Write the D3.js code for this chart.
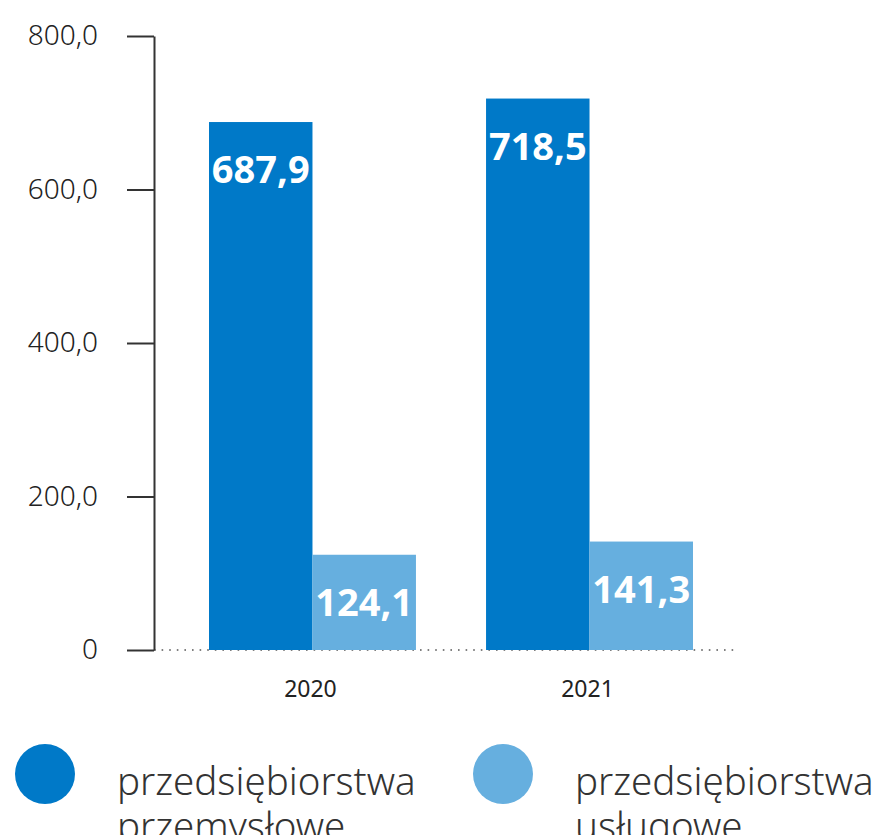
<!DOCTYPE html>
<html>
<head>
<meta charset="utf-8">
<script src="https://cdn.jsdelivr.net/npm/d3@7"></script>
<style>
  body { margin: 0; background: #fff; }
  svg { display: block; font-family: "Noto Sans", sans-serif; }
</style>
</head>
<body>
<svg id="chart" width="876" height="835"></svg>
<script>
// chart data
var years = ["2020", "2021"];
var seriesNames = ["przedsiębiorstwa przemysłowe", "przedsiębiorstwa usługowe"];
var industrial = [687.9, 718.5];
var services = [124.1, 141.3];
var yTicks = [0, 200, 400, 600, 800];

var colors = ["#0079c8", "#66afdf"];
var fmt = function(v) { return v.toFixed(1).replace(".", ","); };

var svg = d3.select("#chart");

// scales
var y = d3.scaleLinear().domain([0, 800]).range([650, 36]);
var x = d3.scaleBand().domain(years).range([209, 693]).paddingInner(0.253).paddingOuter(0);
var xs = d3.scaleBand().domain([0, 1]).range([0, x.bandwidth()]);

var axisX = 154;

// dotted baseline
svg.append("line")
    .attr("x1", axisX).attr("x2", 735)
    .attr("y1", y(0)).attr("y2", y(0))
    .attr("stroke", "#555")
    .attr("stroke-width", 1.6)
    .attr("stroke-dasharray", "1.6,6");

// y axis
var yAxis = svg.append("g")
    .attr("transform", "translate(" + axisX + ",0)")
    .call(d3.axisLeft(y).tickValues(yTicks).tickSize(27).tickSizeOuter(0).tickPadding(29)
        .tickFormat(function(d) { return d === 0 ? "0" : fmt(d); }));
yAxis.select(".domain").attr("stroke", "#333").attr("stroke-width", 2);
yAxis.selectAll(".tick line").attr("stroke", "#333").attr("stroke-width", 2);
yAxis.selectAll(".tick text")
    .attr("fill", "#222")
    .style("font-size", "28px")
    .style("font-weight", "300")
    .style("font-family", "'Noto Sans', sans-serif");

// bars
var rows = years.map(function(yr, i) { return { year: yr, values: [industrial[i], services[i]] }; });

var groups = svg.selectAll(".grp")
    .data(rows)
    .enter().append("g")
    .attr("class", "grp")
    .attr("transform", function(d) { return "translate(" + x(d.year) + ",0)"; });

groups.selectAll("rect")
    .data(function(d) { return d.values; })
    .enter().append("rect")
    .attr("x", function(d, i) { return xs(i); })
    .attr("y", function(d) { return y(d); })
    .attr("width", xs.bandwidth())
    .attr("height", function(d) { return y(0) - y(d); })
    .attr("fill", function(d, i) { return colors[i]; });

groups.selectAll("text.val")
    .data(function(d) { return d.values; })
    .enter().append("text")
    .attr("class", "val")
    .attr("x", function(d, i) { return xs(i) + xs.bandwidth() / 2; })
    .attr("y", function(d) { return y(d) + 61; })
    .attr("text-anchor", "middle")
    .attr("fill", "#fff")
    .style("font-size", "38px")
    .style("font-weight", "bold")
    .text(fmt);

// year labels
svg.selectAll(".yr")
    .data(years)
    .enter().append("text")
    .attr("class", "yr")
    .attr("x", function(d) { return x(d) + x.bandwidth() / 2 - 2; })
    .attr("y", 697)
    .attr("text-anchor", "middle")
    .attr("fill", "#222")
    .style("font-size", "23px")
    .text(function(d) { return d; });

// legend
var legendX = [45, 503];
var legend = svg.selectAll(".leg")
    .data(seriesNames)
    .enter().append("g")
    .attr("class", "leg")
    .attr("transform", function(d, i) { return "translate(" + legendX[i] + ",774)"; });

legend.append("circle")
    .attr("r", 30)
    .attr("fill", function(d, i) { return colors[i]; });

legend.append("text")
    .attr("x", 72)
    .attr("y", 21)
    .attr("fill", "#333")
    .style("font-size", "38.5px")
    .style("font-weight", "300")
    .each(function(d) {
        var parts = d.split(" ");
        var t = d3.select(this);
        parts.forEach(function(p, k) {
            t.append("tspan").attr("x", 72).attr("dy", k === 0 ? 0 : 45).text(p);
        });
    });
</script>
</body>
</html>
